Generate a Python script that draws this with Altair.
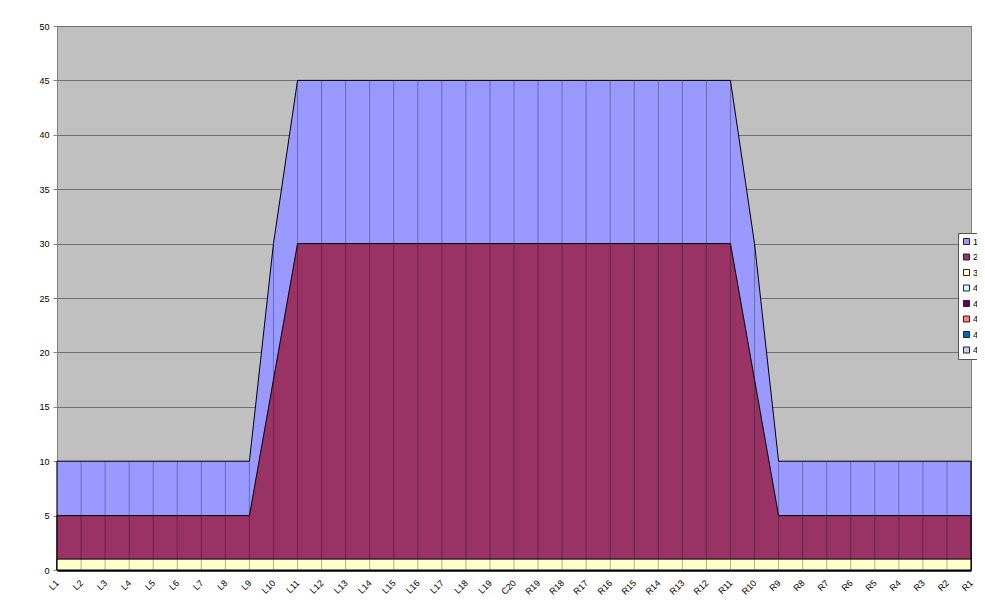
import altair as alt
import pandas as pd

categories = [f"L{i}" for i in range(1, 20)] + ["C20"] + [f"R{i}" for i in range(19, 0, -1)]
series1 = [10]*9 + [30] + [45]*19 + [30] + [10]*9
series2 = [5]*9 + [17.5] + [30]*19 + [17.5] + [5]*9
series3 = [1]*39

legend_keys = ["1", "2", "3", "4a", "4b", "4c", "4d", "4e"]
legend_colors = ["#9999FF", "#993366", "#FFFFCC", "#CCFFFF", "#660066", "#FF8080", "#0066CC", "#CCCCFF"]
y_ticks = list(range(0, 55, 5))

FONT = "Liberation Sans"

df = pd.DataFrame({"cat": categories, "s1": series1, "s2": series2, "s3": series3,
                   "zero": [0]*len(categories)})

x_axis = alt.Axis(title=None, labelAngle=-45, labelAlign="right", labelBaseline="middle",
                  labelFontSize=9, labelFont=FONT, labelColor="black", labelPadding=11,
                  domainColor="black", domainWidth=2.5, ticks=False,
                  grid=False, labelOverlap=False)
x_scale = alt.Scale(type="point", padding=0)
y_scale = alt.Scale(domain=[0, 50], nice=False)
y_axis = alt.Axis(title=None, values=y_ticks, labelFontSize=9, labelFont=FONT, labelColor="black",
                  domainColor="#808080", tickColor="#808080", tickSize=4, labelPadding=4,
                  grid=True, gridColor="#6F6F6F", gridWidth=1)

color_scale = alt.Scale(domain=legend_keys, range=legend_colors)
legend = alt.Legend(title=None, orient="none", legendX=901, legendY=207, symbolType="square",
                    symbolSize=36, symbolStrokeColor="#222222", symbolStrokeWidth=1,
                    symbolOpacity=1, labelFontSize=9, labelFont=FONT, labelColor="black",
                    labelExpr="slice(datum.label, 0, 1)", rowPadding=4.5, padding=4,
                    fillColor="white", strokeColor="#555555", labelOffset=2)

base = alt.Chart(df)

def area_layer(field, key):
    return base.transform_calculate(series=f"'{key}'").mark_area(
        stroke="black", strokeWidth=1, opacity=1
    ).encode(
        x=alt.X("cat:O", sort=categories, scale=x_scale, axis=x_axis),
        y=alt.Y(f"{field}:Q", scale=y_scale, axis=y_axis, stack=None),
        color=alt.Color("series:N", scale=color_scale, legend=legend),
    )

a1 = area_layer("s1", "1")
a2 = area_layer("s2", "2")
a3 = area_layer("s3", "3")

rules = base.mark_rule(color="black", opacity=0.3, strokeWidth=1).encode(
    x=alt.X("cat:O", sort=categories, scale=x_scale, axis=x_axis),
    y=alt.Y("zero:Q", scale=y_scale, axis=y_axis),
    y2=alt.Y2("s1:Q"),
)

chart = alt.layer(a1, a2, a3, rules).properties(
    width=914, height=544,
    autosize=alt.AutoSizeParams(type="none"),
    padding={"left": 49, "top": 18, "right": 6, "bottom": 27},
    background="white",
).configure_view(fill="#C0C0C0", stroke="#808080", strokeWidth=1)

chart.save("out.html", embed_options={"renderer": "svg", "actions": False})
